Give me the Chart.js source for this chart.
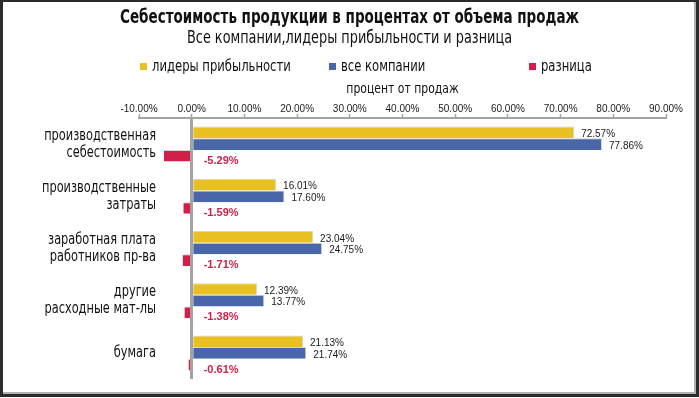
<!DOCTYPE html>
<html>
<head>
<meta charset="utf-8">
<script src="https://cdn.jsdelivr.net/npm/chart.js@4"></script>
<style>
  html, body { margin: 0; padding: 0; background: #fff; }
  #wrap { width: 699px; height: 398px; position: relative; }
</style>
</head>
<body>
<div id="wrap"><canvas id="c" width="699" height="398"></canvas></div>
<script>
// ---- data ----
const categories = [
  ['производственная', 'себестоимость'],
  ['производственные', 'затраты'],
  ['заработная плата', 'работников пр-ва'],
  ['другие', 'расходные мат-лы'],
  ['бумага']
];
const leaders = [72.57, 16.01, 23.04, 12.39, 21.13];
const allCompanies = [77.86, 17.60, 24.75, 13.77, 21.74];
const difference = [-5.29, -1.59, -1.71, -1.38, -0.61];
const seriesNames = ['лидеры прибыльности', 'все компании', 'разница'];
const tickValues = [-10, 0, 10, 20, 30, 40, 50, 60, 70, 80, 90];
const tickLabels = ['-10.00%', '0.00%', '10.00%', '20.00%', '30.00%', '40.00%', '50.00%', '60.00%', '70.00%', '80.00%', '90.00%'];
const titleText = 'Себестоимость продукции в процентах от объема продаж';
const subtitleText = 'Все компании,лидеры прибыльности и разница';
const axisTitle = 'процент от продаж';

// ---- style ----
const NARROW = '"Liberation Sans Narrow", "DejaVu Sans Condensed", sans-serif';
const SANS = '"Liberation Sans", "DejaVu Sans", sans-serif';
const colors = ['#E8C021', '#4866A9', '#D21F4A'];
const legendX = [140, 329, 529];

function fmt(v) { return v.toFixed(2) + '%'; }

function narrowText(ctx, text, x, y, sx, align) {
  ctx.save();
  ctx.translate(x, y);
  ctx.scale(sx, 1);
  ctx.textAlign = align;
  ctx.fillText(text, 0, 0);
  ctx.restore();
}

const headerPlugin = {
  id: 'header',
  afterDraw(chart) {
    const ctx = chart.ctx;
    const W = chart.width;
    const xs = chart.scales.x;
    const ys = chart.scales.y;
    ctx.save();
    ctx.fillStyle = '#111';
    ctx.textBaseline = 'middle';
    ctx.font = 'bold 20px ' + NARROW;
    narrowText(ctx, titleText, W / 2, 18, 0.75, 'center');
    ctx.font = '17px ' + NARROW;
    narrowText(ctx, subtitleText, W / 2, 39, 0.84, 'center');
    // legend
    ctx.font = '15px ' + NARROW;
    chart.data.datasets.forEach((ds, i) => {
      const x = legendX[i];
      ctx.fillStyle = ds.backgroundColor;
      ctx.fillRect(x, 63, 7, 7);
      ctx.fillStyle = '#111';
      narrowText(ctx, ds.label, x + 12, 67, 0.86, 'left');
    });
    // axis title
    ctx.font = '14px ' + NARROW;
    narrowText(ctx, axisTitle, (xs.left + xs.right) / 2, 89, 0.86, 'center');
    // category labels
    ctx.font = '16px ' + NARROW;
    const lh = 17;
    chart.data.labels.forEach((lab, i) => {
      const lines = Array.isArray(lab) ? lab : [lab];
      const cy = ys.getPixelForTick(i);
      const y0 = cy - (lines.length - 1) * lh / 2;
      lines.forEach((ln, k) => narrowText(ctx, ln, 156, y0 + k * lh, 0.79, 'right'));
    });
    // frame
    ctx.fillStyle = '#2b2b2b';
    ctx.fillRect(0, 0, 3, 397);
    ctx.fillRect(0, 0, 697, 2);
    ctx.fillRect(696, 0, 3, 397);
    ctx.fillRect(0, 394, 699, 3);
    ctx.fillStyle = '#b0b0b0';
    ctx.fillRect(3, 392, 693, 2);
    ctx.fillRect(694, 2, 2, 392);
    ctx.restore();
  }
};

const labelPlugin = {
  id: 'valueLabels',
  afterDraw(chart) {
    const ctx = chart.ctx;
    const xs = chart.scales.x;
    ctx.save();
    chart.data.datasets.forEach((ds, di) => {
      const meta = chart.getDatasetMeta(di);
      meta.data.forEach((bar, i) => {
        const v = ds.data[i];
        ctx.textAlign = 'left';
        ctx.textBaseline = 'middle';
        if (di < 2) {
          ctx.font = '10px ' + SANS;
          ctx.fillStyle = '#1a1a1a';
          ctx.fillText(fmt(v), bar.x + 7, bar.y + 2);
        } else {
          ctx.font = 'bold 11px ' + SANS;
          ctx.fillStyle = '#D21F4A';
          ctx.fillText(fmt(v), xs.getPixelForValue(0) + 12, bar.y + 5);
        }
      });
    });
    ctx.restore();
  }
};

new Chart(document.getElementById('c'), {
  type: 'bar',
  data: {
    labels: categories,
    datasets: [
      { label: seriesNames[0], data: leaders, backgroundColor: colors[0] },
      { label: seriesNames[1], data: allCompanies, backgroundColor: colors[1] },
      { label: seriesNames[2], data: difference, backgroundColor: colors[2] }
    ]
  },
  options: {
    responsive: false,
    animation: false,
    indexAxis: 'y',
    datasets: {
      bar: {
        categoryPercentage: 0.67,
        barPercentage: 1.0,
        borderColor: '#d4d4d4',
        borderWidth: { top: 1, right: 1, bottom: 0, left: 0 },
        borderSkipped: 'start'
      }
    },
    layout: { padding: { top: 76, right: 33, bottom: 19, left: 0 } },
    plugins: {
      legend: { display: false },
      title: { display: false },
      tooltip: { enabled: false }
    },
    scales: {
      x: {
        position: 'top',
        min: -10,
        max: 90,
        z: 1,
        afterBuildTicks(s) { s.ticks = tickValues.map(v => ({ value: v })); },
        afterFit(s) { s.height = 42; },
        ticks: {
          padding: -1,
          maxRotation: 0,
          autoSkip: false,
          color: '#1a1a1a',
          font: { family: SANS, size: 10 },
          callback: (v, i) => tickLabels[i]
        },
        grid: {
          drawOnChartArea: true,
          color: c => (c.tick && c.tick.value === 0) ? '#a3a3a3' : 'rgba(0,0,0,0)',
          lineWidth: c => (c.tick && c.tick.value === 0) ? 3 : 1,
          tickColor: '#a3a3a3',
          tickWidth: 1.5,
          tickLength: 4
        },
        border: { display: true, color: '#a3a3a3', width: 2 },
        title: { display: false }
      },
      y: {
        afterFit(s) { s.width = 139; },
        grid: { display: false, drawTicks: false },
        border: { display: false },
        ticks: { display: false }
      }
    }
  },
  plugins: [headerPlugin, labelPlugin]
});
</script>
</body>
</html>
